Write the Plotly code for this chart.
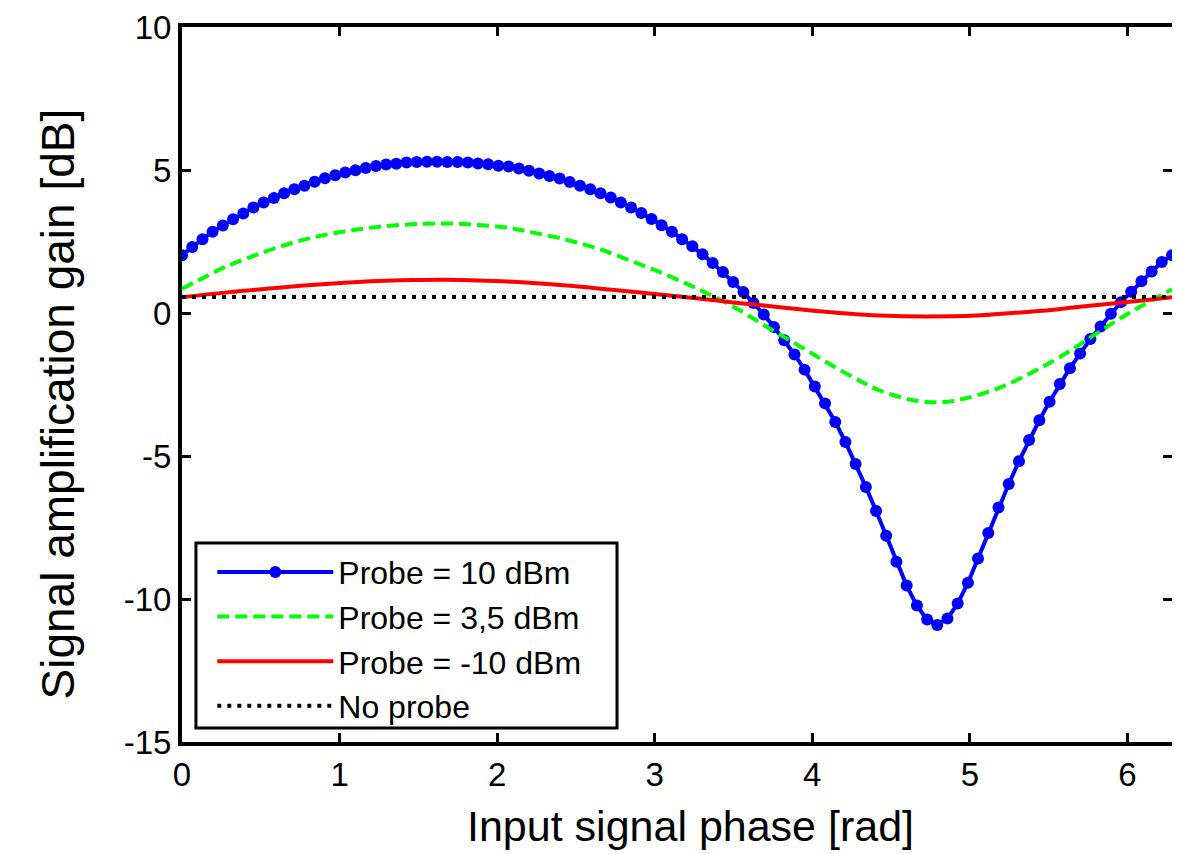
import plotly.graph_objects as go

# ---- data ----
phase_probe10 = [0.000, 0.065, 0.130, 0.194, 0.259, 0.324, 0.389, 0.453, 0.518, 0.583,
                 0.648, 0.713, 0.777, 0.842, 0.907, 0.972, 1.036, 1.101, 1.166, 1.231,
                 1.296, 1.360, 1.425, 1.490, 1.555, 1.619, 1.684, 1.749, 1.814, 1.878,
                 1.943, 2.008, 2.073, 2.138, 2.202, 2.267, 2.332, 2.397, 2.461, 2.526,
                 2.591, 2.656, 2.721, 2.785, 2.850, 2.915, 2.980, 3.044, 3.109, 3.174,
                 3.239, 3.304, 3.368, 3.433, 3.498, 3.563, 3.627, 3.692, 3.757, 3.822,
                 3.887, 3.951, 4.016, 4.081, 4.146, 4.210, 4.275, 4.340, 4.405, 4.469,
                 4.534, 4.599, 4.664, 4.729, 4.793, 4.858, 4.923, 4.988, 5.052, 5.117,
                 5.182, 5.247, 5.312, 5.376, 5.441, 5.506, 5.571, 5.635, 5.700, 5.765,
                 5.830, 5.895, 5.959, 6.024, 6.089, 6.154, 6.218, 6.283]
gain_probe10 = [2.02, 2.31, 2.58, 2.84, 3.06, 3.28, 3.48, 3.69, 3.86, 4.02,
                4.19, 4.33, 4.45, 4.59, 4.71, 4.82, 4.91, 4.99, 5.07, 5.14,
                5.19, 5.22, 5.26, 5.28, 5.29, 5.29, 5.28, 5.28, 5.26, 5.23,
                5.20, 5.15, 5.12, 5.05, 4.97, 4.88, 4.79, 4.70, 4.58, 4.45,
                4.33, 4.19, 4.04, 3.86, 3.69, 3.50, 3.29, 3.07, 2.84, 2.58,
                2.33, 2.05, 1.75, 1.43, 1.08, 0.73, 0.35, -0.05, -0.49, -0.95,
                -1.45, -1.98, -2.57, -3.16, -3.81, -4.51, -5.28, -6.08, -6.92, -7.79,
                -8.70, -9.53, -10.23, -10.72, -10.91, -10.68, -10.16, -9.43, -8.58, -7.69,
                -6.80, -5.98, -5.18, -4.44, -3.75, -3.10, -2.48, -1.93, -1.42, -0.91,
                -0.47, -0.03, 0.38, 0.74, 1.11, 1.45, 1.78, 2.02]

phase_probe35 = [0.00, 0.10, 0.25, 0.42, 0.61, 0.82, 1.03, 1.24, 1.46, 1.67, 1.88,
                 2.07, 2.23, 2.44, 2.65, 2.86, 3.08, 3.29, 3.50, 3.71, 3.92, 4.22,
                 4.43, 4.64, 4.81, 4.96, 5.17, 5.38, 5.59, 5.80, 6.02, 6.283]
gain_probe35 = [0.85, 1.13, 1.55, 1.93, 2.30, 2.63, 2.85, 3.01, 3.10, 3.13, 3.08,
                2.98, 2.81, 2.56, 2.23, 1.80, 1.32, 0.80, 0.22, -0.48, -1.16, -2.13,
                -2.71, -3.05, -3.12, -3.00, -2.65, -2.12, -1.48, -0.73, 0.03, 0.83]

phase_probem10 = [0.00, 0.30, 0.61, 0.82, 1.03, 1.24, 1.46, 1.67, 1.88, 2.07, 2.44,
                  2.86, 3.08, 3.29, 3.50, 3.71, 3.92, 4.22, 4.43, 4.72, 5.04, 5.27,
                  5.46, 5.67, 5.89, 6.08, 6.283]
gain_probem10 = [0.55, 0.73, 0.88, 0.98, 1.06, 1.12, 1.15, 1.16, 1.14, 1.10, 0.96,
                 0.74, 0.62, 0.50, 0.37, 0.25, 0.13, -0.02, -0.09, -0.12, -0.09, 0.00,
                 0.08, 0.20, 0.32, 0.43, 0.55]

phase_noprobe = [0.0, 6.283]
gain_noprobe = [0.56, 0.56]

names = ["Probe = 10 dBm", "Probe = 3,5 dBm", "Probe = -10 dBm", "No probe"]

x_ticks = [0, 1, 2, 3, 4, 5, 6]
y_ticks = [-15, -10, -5, 0, 5, 10]
y_ticklabels = ["-15", "-10", "-5", "0", "5", "10"]
x_title = "Input signal phase [rad]"
y_title = "Signal amplification gain [dB]"

FONT = "Liberation Sans, Arial, Helvetica, sans-serif"

fig = go.Figure()
fig.add_trace(go.Scatter(x=phase_probe10, y=gain_probe10, name=names[0],
                         mode="lines+markers",
                         line=dict(color="#0000FF", width=4),
                         marker=dict(color="#0000FF", size=12, symbol="circle")))
fig.add_trace(go.Scatter(x=phase_probe35, y=gain_probe35, name=names[1],
                         mode="lines", line_shape="spline",
                         line=dict(color="#00FF00", width=4, dash="12px,6px")))
fig.add_trace(go.Scatter(x=phase_probem10, y=gain_probem10, name=names[2],
                         mode="lines", line_shape="spline",
                         line=dict(color="#FF0000", width=4)))
fig.add_trace(go.Scatter(x=phase_noprobe, y=gain_noprobe, name=names[3],
                         mode="lines",
                         line=dict(color="#000000", width=4, dash="4px,6px")))

axis_common = dict(showline=True, linecolor="black", linewidth=4, mirror="allticks",
                   ticks="inside", ticklen=9, tickwidth=3, tickcolor="black",
                   showgrid=False, zeroline=False, automargin=False,
                   tickfont=dict(family=FONT, size=33, color="black"))

fig.update_xaxes(range=[0, 6.283], tickvals=x_ticks, **axis_common)
fig.update_yaxes(range=[-15, 10], tickvals=y_ticks, ticktext=y_ticklabels, **axis_common)

fig.add_annotation(text=x_title, xref="paper", yref="paper", x=0.514, y=-0.1175,
                   xanchor="center", yanchor="middle", showarrow=False,
                   font=dict(family=FONT, size=43, color="black"))
fig.add_annotation(text=y_title, xref="paper", yref="paper", x=-0.1253, y=0.4734,
                   xanchor="center", yanchor="middle", showarrow=False, textangle=-90,
                   font=dict(family=FONT, size=46, color="black"))

# legend frame (white box with black border, drawn above the curves)
fig.add_shape(type="rect", xref="paper", yref="paper",
              x0=0.0141, x1=0.4394, y0=0.0196, y1=0.2783,
              fillcolor="white", line=dict(color="black", width=3), layer="above")

# the page body has an 8px margin, so the figure is sized/offset to compensate
fig.update_layout(
    width=1172, height=846,
    margin=dict(l=174, r=8, t=19, b=112),
    paper_bgcolor="white", plot_bgcolor="white",
    font=dict(family=FONT, color="black"),
    showlegend=True,
    legend=dict(x=0.0306, y=0.276, xanchor="left", yanchor="top",
                bgcolor="rgba(0,0,0,0)", borderwidth=0,
                font=dict(family=FONT, size=32, color="black"),
                itemwidth=116, tracegroupgap=0),
)

fig.write_html("out.html")
